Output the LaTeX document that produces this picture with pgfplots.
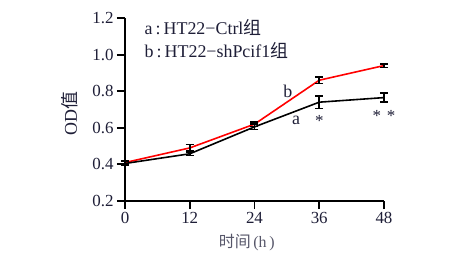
\documentclass[border=0pt]{standalone}
\usepackage{fontspec}
\usepackage{pgfplots}
\pgfplotsset{compat=1.18}
\setmainfont{Liberation Serif}
\newfontfamily\cjk{Noto Sans CJK SC}
\definecolor{txt}{RGB}{30,30,55}
\begin{document}
\begin{tikzpicture}
\path[use as bounding box] (-125bp,-56bp) rectangle (349bp,201bp);
\begin{axis}[
  at={(0,0)}, anchor=south west,
  scale only axis, width=259bp, height=183bp,
  xmin=0, xmax=48, ymin=0.2, ymax=1.2,
  clip=false,
  axis lines=left,
  axis line style={line width=2pt, -},
  xtick={0,12,24,36,48},
  ytick={0.2,0.4,0.6,0.8,1.0,1.2},
  yticklabel style={/pgf/number format/.cd, fixed, fixed zerofill, precision=1},
  /pgf/number format/assume math mode=true,
  tick style={line width=2pt, black},
  tick align=outside,
  major tick length=8bp,
  ticklabel style={font=\fontsize{17}{19}\selectfont, text=txt},
  xlabel={{\cjk 时间}\,(h\,)},
  ylabel={OD{\cjk 值}},
  xlabel style={font=\fontsize{16}{18}\selectfont, text=txt!75, at={(axis description cs:0.47,0)}, anchor=center, yshift=-42bp},
  ylabel style={font=\fontsize{18}{20}\selectfont, text=txt, at={(axis description cs:-0.212,0.48)}, anchor=center, rotate=0},
  error bars/error bar style={black, line width=1.6pt},
  error bars/error mark options={black, rotate=90, mark size=4bp, line width=1.6pt},
]
\addplot[red, line width=1.6pt, mark=none,
  error bars/.cd, y dir=both, y explicit]
  coordinates {(0,0.41) +- (0,0.008) (12,0.49) +- (0,0.018) (24,0.62) +- (0,0.012) (36,0.86) +- (0,0.018) (48,0.94) +- (0,0.01)};
\addplot[black, line width=1.6pt, mark=none,
  error bars/.cd, y dir=both, y explicit]
  coordinates {(0,0.405) +- (0,0.01) (12,0.458) +- (0,0.01) (24,0.605) +- (0,0.015) (36,0.74) +- (0,0.035) (48,0.765) +- (0,0.025)};
\node[anchor=west, font=\fontsize{18}{20}\selectfont, text=txt] at (axis cs:3.0,1.15) {a\,:\,HT22−Ctrl{\cjk 组}};
\node[anchor=west, font=\fontsize{18}{20}\selectfont, text=txt] at (axis cs:3.0,1.025) {b\,:\,HT22−shPcif1{\cjk 组}};
\node[font=\fontsize{18}{20}\selectfont, text=txt] at (axis cs:30.2,0.80) {b};
\node[font=\fontsize{18}{20}\selectfont, text=txt] at (axis cs:31.7,0.64) {a};
\node[font=\fontsize{17}{19}\selectfont, text=txt] at (axis cs:36,0.635) {*};
\node[font=\fontsize{17}{19}\selectfont, text=txt] at (axis cs:48,0.665) {*\,\,*};
\end{axis}
\end{tikzpicture}
\end{document}
